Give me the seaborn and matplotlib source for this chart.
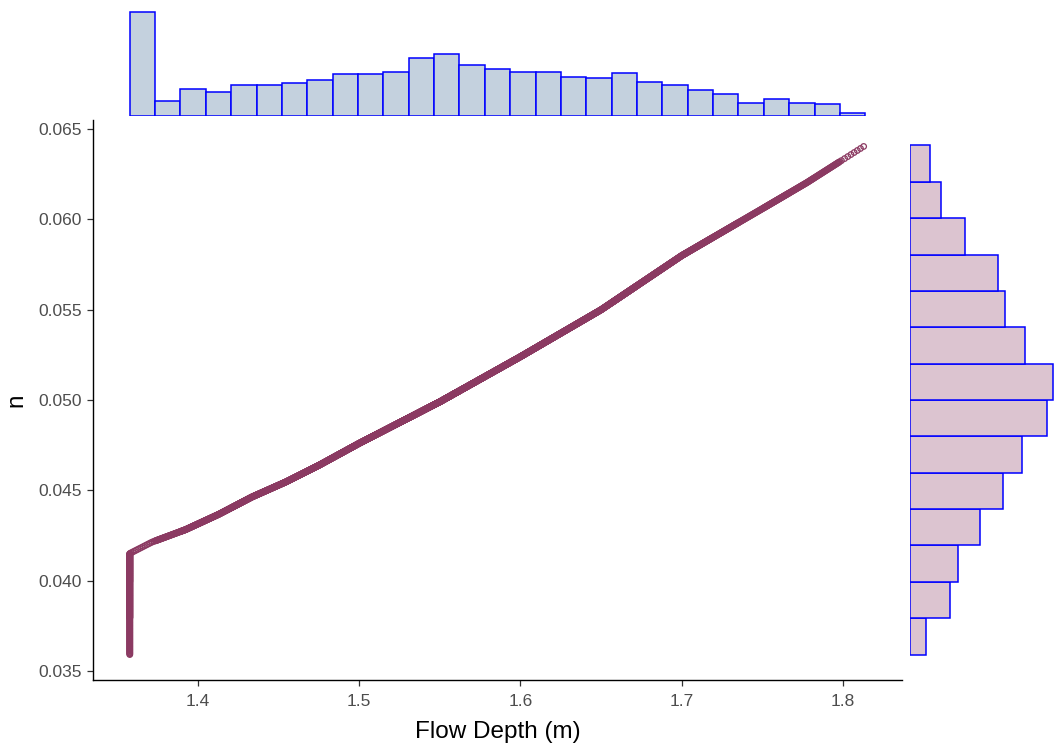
import numpy as np
import pandas as pd
import matplotlib
matplotlib.use("Agg")
import matplotlib.pyplot as plt
import seaborn as sns

# ---- data -------------------------------------------------------------
# flow depth range and number of records per depth bin
depth_range = (1.3578, 1.8137)
depth_bin_counts = [308, 45, 80, 72, 92, 92, 97, 108, 124, 124, 132, 172, 185, 152,
                    140, 132, 132, 116, 112, 129, 100, 92, 76, 64, 40, 52, 40, 35, 8]

# Manning's n range and number of records per n bin (lowest band first)
n_range = (0.0359, 0.0641)
n_bin_counts = [47, 119, 143, 211, 279, 336, 411, 428, 343, 283, 263, 164, 94, 59]

# records sitting at the minimum depth, counted in the lowest n bands
min_depth_n_counts = [47, 119, 128]

# depth / n relation along the rising branch
curve_depth = [1.3578, 1.3716, 1.3924, 1.4130, 1.4336, 1.4545, 1.4752, 1.5000,
               1.5500, 1.6000, 1.6500, 1.7000, 1.7500, 1.7775, 1.8137]
curve_n = [0.04150, 0.04213, 0.04282, 0.04367, 0.04463, 0.04546, 0.04639, 0.04760,
           0.04990, 0.05240, 0.05500, 0.05800, 0.06060, 0.06204, 0.06410]

# ---- build the records -----------------------------------------------
depth_edges = np.linspace(depth_range[0], depth_range[1], len(depth_bin_counts) + 1)
n_edges = np.linspace(n_range[0], n_range[1], len(n_bin_counts) + 1)

depths, ns = [], []
# vertical run at the minimum depth
for k, c in enumerate(min_depth_n_counts):
    lo = n_edges[k]
    hi = n_edges[k + 1] if k < len(min_depth_n_counts) - 1 else curve_n[0]
    ns.extend(np.linspace(lo, hi, c, endpoint=False))
    depths.extend([depth_range[0]] * c)

# records along the curve, bin by bin
for i, c in enumerate(depth_bin_counts):
    if i == 0:
        c = c - sum(min_depth_n_counts)
    lo, hi = depth_edges[i], depth_edges[i + 1]
    d = lo + (np.arange(c) + 0.5) / c * (hi - lo)
    depths.extend(d)
    ns.extend(np.interp(d, curve_depth, curve_n))

df = pd.DataFrame({"depth": depths, "n": ns})
n_hist = pd.DataFrame({"n": (n_edges[:-1] + n_edges[1:]) / 2,
                       "count": np.array(n_bin_counts, dtype=float)})

# ---- figure -----------------------------------------------------------
sns.set_style("white")
plt.rcParams["font.family"] = ["Liberation Sans", "DejaVu Sans"]

W, H = 1054, 745
fig = plt.figure(figsize=(W / 100, H / 100), dpi=100)

def box(x0, y0, x1, y1):
    return [x0 / W, 1 - y1 / H, (x1 - x0) / W, (y1 - y0) / H]

ax = fig.add_axes(box(93, 120, 902, 680))
ax_top = fig.add_axes(box(93, 10, 902, 116), sharex=ax)
ax_right = fig.add_axes(box(910, 120, 1054, 680), sharey=ax)

point_col = "#8B3A62"
edge_blue = "#0000FF"

sns.scatterplot(data=df, x="depth", y="n", ax=ax, marker="o", s=16,
                facecolor="none", edgecolor=point_col, linewidth=0.9, legend=False)

sns.histplot(data=df, x="depth", bins=len(depth_bin_counts), binrange=depth_range,
             ax=ax_top, color="#C4D1DE", alpha=1, edgecolor=edge_blue, linewidth=1.1)
sns.histplot(data=n_hist, y="n", weights="count", bins=len(n_bin_counts),
             binrange=n_range, ax=ax_right,
             color="#DCC4D0", alpha=1, edgecolor=edge_blue, linewidth=1.1)

# main panel scales
dx = depth_range[1] - depth_range[0]
dn = n_range[1] - n_range[0]
ax.set_xlim(depth_range[0] - 0.05 * dx, depth_range[1] + 0.05 * dx)
ax.set_ylim(n_range[0] - 0.05 * dn, n_range[1] + 0.05 * dn)
ax.set_xticks([1.4, 1.5, 1.6, 1.7, 1.8])
ax.set_xticklabels(["1.4", "1.5", "1.6", "1.7", "1.8"])
ax.set_yticks([0.035, 0.040, 0.045, 0.050, 0.055, 0.060, 0.065])
ax.set_yticklabels(["0.035", "0.040", "0.045", "0.050", "0.055", "0.060", "0.065"])
ax.tick_params(axis="both", length=4, width=0.9, color="#333333",
               labelsize=12.5, labelcolor="#4D4D4D", direction="out",
               bottom=True, left=True)
ax.tick_params(axis="x", pad=6)
ax.tick_params(axis="y", pad=4)
for side in ("top", "right"):
    ax.spines[side].set_visible(False)
for side in ("left", "bottom"):
    ax.spines[side].set_color("#000000")
    ax.spines[side].set_linewidth(1.0)
ax.set_xlabel("Flow Depth (m)", fontsize=17.5, color="#000000", labelpad=9)
ax.set_ylabel("n", fontsize=17.5, color="#000000", labelpad=8)

# marginal panels
ax_top.set_ylim(0, 308 * 106 / 103.5)
ax_right.set_xlim(0, 428 * 144 / 143)
for a in (ax_top, ax_right):
    a.axis("off")

fig.savefig("out.png", dpi=100)
